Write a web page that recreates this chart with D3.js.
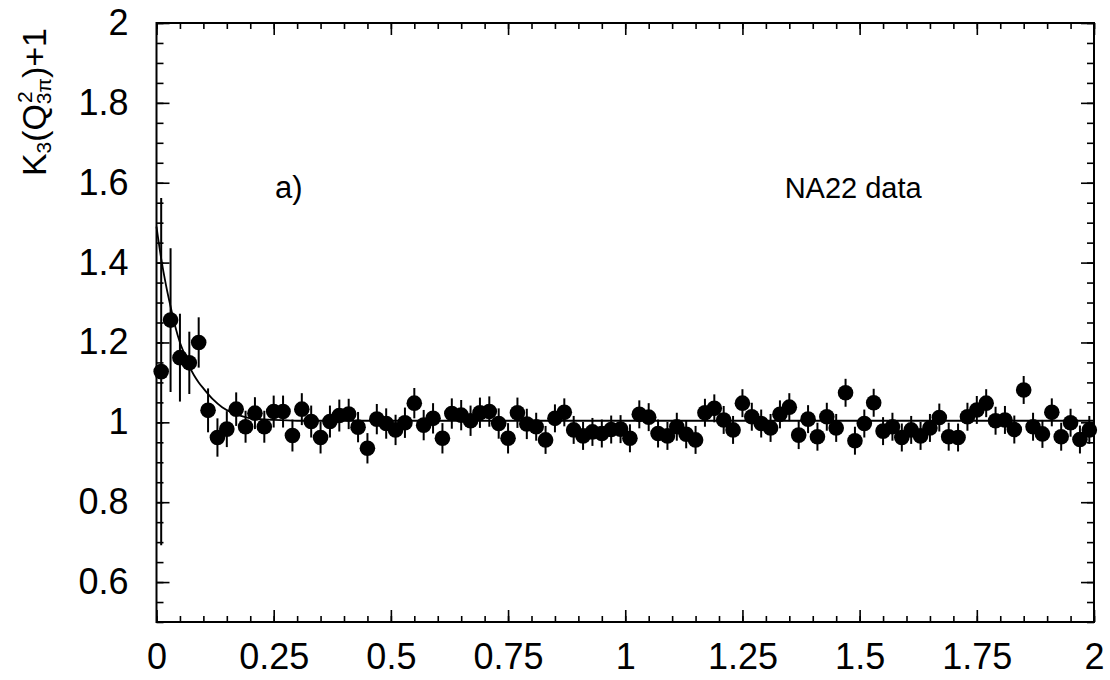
<!DOCTYPE html>
<html>
<head>
<meta charset="utf-8">
<script src="https://cdn.jsdelivr.net/npm/d3@7"></script>
<style>
  body { margin: 0; background: #fff; }
  text { font-family: "Liberation Sans", Arial, Helvetica, sans-serif; }
</style>
</head>
<body>
<div id="my_dataviz"></div>
<script>

// bin centres of Q^2_3pi (GeV^2)
const qBins = [
  0.01, 0.03, 0.05, 0.07, 0.09, 0.11, 0.13, 0.15, 0.17, 0.19,
  0.21, 0.23, 0.25, 0.27, 0.29, 0.31, 0.33, 0.35, 0.37, 0.39,
  0.41, 0.43, 0.45, 0.47, 0.49, 0.51, 0.53, 0.55, 0.57, 0.59,
  0.61, 0.63, 0.65, 0.67, 0.69, 0.71, 0.73, 0.75, 0.77, 0.79,
  0.81, 0.83, 0.85, 0.87, 0.89, 0.91, 0.93, 0.95, 0.97, 0.99,
  1.01, 1.03, 1.05, 1.07, 1.09, 1.11, 1.13, 1.15, 1.17, 1.19,
  1.21, 1.23, 1.25, 1.27, 1.29, 1.31, 1.33, 1.35, 1.37, 1.39,
  1.41, 1.43, 1.45, 1.47, 1.49, 1.51, 1.53, 1.55, 1.57, 1.59,
  1.61, 1.63, 1.65, 1.67, 1.69, 1.71, 1.73, 1.75, 1.77, 1.79,
  1.81, 1.83, 1.85, 1.87, 1.89, 1.91, 1.93, 1.95, 1.97, 1.99
]

// K3 + 1 measured
const k3Values = [
  1.127, 1.256, 1.162, 1.149, 1.200, 1.030, 0.962, 0.983, 1.033, 0.989,
  1.023, 0.989, 1.027, 1.027, 0.967, 1.033, 1.002, 0.962, 1.002, 1.017,
  1.021, 0.988, 0.935, 1.008, 0.997, 0.981, 0.999, 1.048, 0.993, 1.010,
  0.960, 1.022, 1.018, 1.004, 1.024, 1.027, 0.997, 0.960, 1.024, 0.996,
  0.989, 0.956, 1.010, 1.025, 0.981, 0.966, 0.976, 0.972, 0.982, 0.983,
  0.960, 1.020, 1.013, 0.972, 0.966, 0.989, 0.970, 0.956, 1.024, 1.035,
  1.006, 0.981, 1.048, 1.014, 0.997, 0.986, 1.020, 1.038, 0.968, 1.008,
  0.964, 1.014, 0.986, 1.074, 0.954, 0.997, 1.049, 0.978, 0.989, 0.962,
  0.981, 0.966, 0.986, 1.012, 0.964, 0.962, 1.014, 1.031, 1.048, 1.004,
  1.006, 0.982, 1.081, 0.989, 0.971, 1.025, 0.964, 0.999, 0.957, 0.981
]

// statistical errors
const k3Errors = [
  0.435, 0.180, 0.110, 0.078, 0.063, 0.055, 0.048, 0.045, 0.042, 0.040,
  0.040, 0.040, 0.040, 0.040, 0.040, 0.040, 0.040, 0.040, 0.040, 0.040,
  0.038, 0.038, 0.038, 0.038, 0.038, 0.038, 0.038, 0.038, 0.038, 0.038,
  0.038, 0.038, 0.038, 0.038, 0.038, 0.038, 0.038, 0.038, 0.038, 0.038,
  0.035, 0.035, 0.035, 0.035, 0.035, 0.035, 0.035, 0.035, 0.035, 0.035,
  0.035, 0.035, 0.035, 0.035, 0.035, 0.035, 0.035, 0.035, 0.035, 0.035,
  0.035, 0.035, 0.035, 0.035, 0.035, 0.035, 0.035, 0.035, 0.035, 0.035,
  0.035, 0.035, 0.035, 0.035, 0.035, 0.035, 0.035, 0.035, 0.035, 0.035,
  0.035, 0.035, 0.035, 0.035, 0.035, 0.035, 0.035, 0.035, 0.035, 0.035,
  0.035, 0.035, 0.035, 0.035, 0.035, 0.035, 0.035, 0.035, 0.035, 0.035
]

// fit curve
const fitQ = [0, 0.01, 0.02, 0.03, 0.04, 0.05, 0.06, 0.07, 0.08, 0.09, 0.10,
  0.12, 0.14, 0.16, 0.18, 0.20, 0.25, 0.30, 0.40, 0.50, 2.00]
const fitK = [1.490, 1.410, 1.345, 1.290, 1.240, 1.200, 1.170, 1.140, 1.118, 1.100, 1.085,
  1.058, 1.038, 1.025, 1.016, 1.010, 1.006, 1.004, 1.004, 1.004, 1.004]

const xMajorTicks = [0, 0.25, 0.5, 0.75, 1, 1.25, 1.5, 1.75, 2]
const xTickLabels = ["0", "0.25", "0.5", "0.75", "1", "1.25", "1.5", "1.75", "2"]
const yMajorTicks = [0.6, 0.8, 1, 1.2, 1.4, 1.6, 1.8, 2]
const yTickLabels = ["0.6", "0.8", "1", "1.2", "1.4", "1.6", "1.8", "2"]


const margin = {top: 23, right: 16, bottom: 58, left: 156.5},
    width = 1110 - margin.left - margin.right,
    height = 680 - margin.top - margin.bottom;

const svg = d3.select("#my_dataviz")
    .append("svg")
    .attr("width", 1110)
    .attr("height", 680)
    .append("g")
    .attr("transform", `translate(${margin.left}, ${margin.top})`);

const x = d3.scaleLinear().domain([0, 2]).range([0, width])
const y = d3.scaleLinear().domain([0.5, 2]).range([height, 0])

const xMinor = d3.range(0, 2.0001, 0.05)
const yMinor = d3.range(0.5, 2.0001, 0.05)


// ticks point inwards on all four sides
function styleAxis(g) {
    g.select(".domain").remove()
    g.selectAll("line").attr("stroke", "black").attr("stroke-width", 1.6)
    g.selectAll("text")
        .attr("font-size", "36px")
        .attr("fill", "black")
        .style("font-family", '"Liberation Sans", Arial, sans-serif')
}

svg.append("g")
    .attr("transform", `translate(0, ${height})`)
    .call(d3.axisBottom(x).tickValues(xMinor).tickSize(-6).tickFormat(""))
    .call(styleAxis)
svg.append("g")
    .attr("transform", `translate(0, ${height})`)
    .call(d3.axisBottom(x).tickValues(xMajorTicks).tickSize(-12).tickPadding(21)
        .tickFormat((d, i) => xTickLabels[i]))
    .call(styleAxis)

svg.append("g")
    .call(d3.axisTop(x).tickValues(xMinor).tickSize(-6).tickFormat(""))
    .call(styleAxis)
svg.append("g")
    .call(d3.axisTop(x).tickValues(xMajorTicks).tickSize(-12).tickFormat(""))
    .call(styleAxis)

svg.append("g")
    .call(d3.axisLeft(y).tickValues(yMinor).tickSize(-7).tickFormat(""))
    .call(styleAxis)
svg.append("g")
    .call(d3.axisLeft(y).tickValues(yMajorTicks).tickSize(-13).tickPadding(28)
        .tickFormat((d, i) => yTickLabels[i]))
    .call(styleAxis)

svg.append("g")
    .attr("transform", `translate(${width}, 0)`)
    .call(d3.axisRight(y).tickValues(yMinor).tickSize(-7).tickFormat(""))
    .call(styleAxis)
svg.append("g")
    .attr("transform", `translate(${width}, 0)`)
    .call(d3.axisRight(y).tickValues(yMajorTicks).tickSize(-13).tickFormat(""))
    .call(styleAxis)

// frame
svg.append("rect")
    .attr("x", 0)
    .attr("y", 0)
    .attr("width", width)
    .attr("height", height)
    .style("fill", "none")
    .style("stroke", "black")
    .style("stroke-width", 2)


const points = qBins.map((q, i) => ({q: q, v: k3Values[i], e: k3Errors[i]}))

// fit line
const fitLine = d3.line()
    .x(function(d, i) { return x(fitQ[i]) })
    .y(function(d) { return y(d) })
    .curve(d3.curveMonotoneX)

svg.append("path")
    .datum(fitK)
    .attr("d", fitLine)
    .style("fill", "none")
    .style("stroke", "black")
    .style("stroke-width", 1.8)

// error bars
svg.selectAll(".err")
    .data(points)
    .join("line")
    .attr("class", "err")
    .attr("x1", function(d) { return x(d.q) })
    .attr("x2", function(d) { return x(d.q) })
    .attr("y1", function(d) { return y(d.v + d.e) })
    .attr("y2", function(d) { return y(d.v - d.e) })
    .style("stroke", "black")
    .style("stroke-width", 2)

svg.selectAll(".pt")
    .data(points)
    .join("circle")
    .attr("class", "pt")
    .attr("cx", function(d) { return x(d.q) })
    .attr("cy", function(d) { return y(d.v) })
    .attr("r", 7.8)
    .style("fill", "black")


// labels inside the frame
svg.append("text")
    .attr("x", x(0.253))
    .attr("y", y(1.562))
    .text("a)")
    .attr("font-size", "31px")
    .attr("fill", "black")

svg.append("text")
    .attr("x", x(1.34))
    .attr("y", y(1.562))
    .text("NA22 data")
    .attr("font-size", "29px")
    .attr("fill", "black")


// y axis title K3(Q^2_3pi)+1, rotated, aligned to the top end
const title = svg.append("text")
    .attr("transform", `translate(${46 - margin.left}, ${28 - margin.top}) rotate(-90)`)
    .attr("text-anchor", "end")
    .attr("font-size", "34px")
    .attr("fill", "black")

title.append("tspan").text("K")
title.append("tspan").attr("font-size", "21px").attr("dy", 5).text("3")
title.append("tspan").attr("dy", -5).text("(Q")
title.append("tspan").attr("font-size", "21px").attr("dy", -14).attr("dx", 1).text("2")
title.append("tspan").attr("font-size", "21px").attr("dy", 19).attr("dx", -13).text("3π")
title.append("tspan").attr("dy", -5).text(")+1")

</script>
</body>
</html>
